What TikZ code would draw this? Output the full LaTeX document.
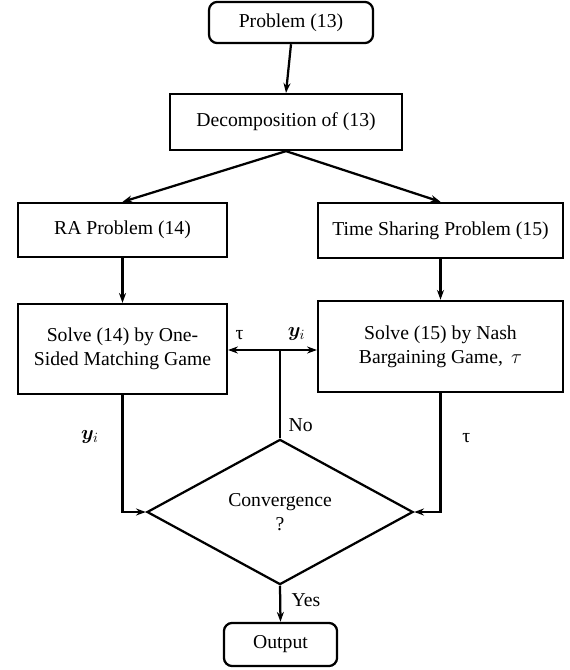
\documentclass[tikz,border=0pt]{standalone}
\usepackage{amsmath, amssymb, bm}
\usepackage{fontspec}
\setmainfont{Liberation Serif}
\usetikzlibrary{arrows.meta, shapes.geometric}

\begin{document}
\begin{tikzpicture}[x=0.025cm, y=-0.025cm, >={Stealth[length=7pt, width=5pt]},
    line width=1.6pt, font=\fontsize{14}{17}\selectfont,
    box/.style={draw, rectangle, align=center, inner sep=0pt},
    rbox/.style={box, rounded corners=6pt},
    decision/.style={draw, diamond, align=center, inner sep=0pt, aspect=1.83}]
    \useasboundingbox (0,0) rectangle (570,670);

    \node[rbox, minimum width=4.1cm, minimum height=1.03cm] (prob) at (291,22.5) {Problem (13)};
    \node[box, minimum width=5.8cm, minimum height=1.4cm] (decomp) at (286,122) {Decomposition of (13)};
    \node[box, minimum width=5.22cm, minimum height=1.35cm] (ra) at (122.5,230) {RA Problem (14)};
    \node[box, minimum width=6.12cm, minimum height=1.38cm] (ts) at (440.5,230.5) {Time Sharing Problem (15)};
    \node[box, minimum width=5.22cm, minimum height=2.25cm] (solveL) at (122.5,349) {Solve (14) by One-\\Sided Matching Game};
    \node[box, minimum width=6.12cm, minimum height=2.28cm] (solveR) at (440.5,346.5) {Solve (15) by Nash\\ Bargaining Game, \,$\tau$};
    \node[decision, minimum width=6.65cm, minimum height=3.63cm] (conv) at (280,512) {Convergence\\?};
    \node[rbox, minimum width=2.83cm, minimum height=1.08cm] (out) at (280.5,644.5) {Output};
    \coordinate (fb) at (280,350);

    \draw[->] (prob.south) -- (decomp.north);
    \draw[->] (decomp.south) -- (ra.north);
    \draw[->] (decomp.south) -- (ts.north);
    \draw[->] (ra.south) -- (solveL.north);
    \draw[->] (ts.south) -- (solveR.north);

    \draw[->] (solveL.south) |- node[pos=0.18, left=0.45cm] {$\bm{y}_i$} (conv.west);
    \draw[->] (solveR.south) |- node[pos=0.19, right=0.4cm] {τ} (conv.east);

    \draw (conv.north) -- node[pos=0.15, right=2pt] {No} (fb);
    \draw[<->] (solveL.east |- fb) -- node[pos=0.13, above=3pt] {τ}
        node[pos=0.77, above=3pt] {$\bm{y}_i$} (solveR.west |- fb);

    \draw[->] (conv.south) -- node[pos=0.41, right=4pt] {Yes} (out.north);
\end{tikzpicture}
\end{document}
